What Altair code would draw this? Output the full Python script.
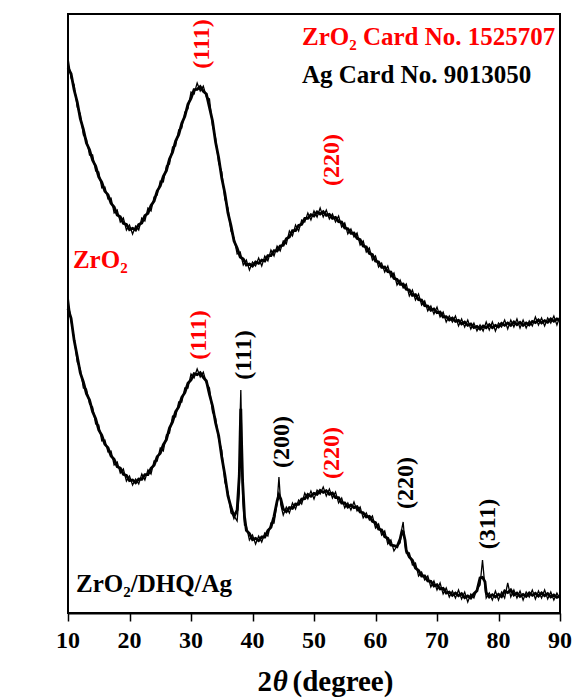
import altair as alt
import pandas as pd

FONT = "Liberation Serif"
RED = "#ff0000"

# ---------------- data (arbitrary intensity units) ----------------
UPPER_2THETA = [10 + 0.5 * i for i in range(161)]  # sampling grid 10..90 deg
UPPER_INTENSITY = [
    555, 535, 528, 506, 499, 478, 474, 458, 458, 442, 441, 425, 426, 414, 415, 400,
    403, 391, 395, 383, 388, 379, 387, 383, 395, 392, 405, 402, 416, 418, 432, 431,
    447, 449, 466, 467, 483, 485, 501, 504, 521, 519, 530, 522, 527, 516, 514, 487,
    475, 450, 441, 414, 405, 382, 375, 359, 361, 348, 353, 343, 351, 347, 355, 347,
    357, 352, 363, 357, 367, 362, 372, 369, 382, 377, 388, 382, 393, 391, 400, 393,
    402, 396, 405, 396, 403, 394, 399, 391, 397, 386, 390, 379, 384, 376, 380, 368,
    372, 361, 365, 353, 357, 346, 350, 341, 347, 336, 340, 328, 333, 325, 329, 317,
    323, 313, 319, 308, 312, 302, 307, 299, 306, 296, 301, 291, 297, 291, 297, 287,
    294, 286, 293, 284, 290, 282, 288, 282, 291, 283, 291, 282, 290, 286, 293, 284,
    293, 286, 294, 285, 293, 285, 292, 287, 296, 288, 295, 287, 295, 290, 297, 288,
    297,
]

LOWER_2THETA = [
    10.0, 10.5, 11.0, 11.5, 12.0, 12.5, 13.0, 13.5, 14.0, 14.5, 15.0, 15.5, 16.0, 16.5,
    17.0, 17.5, 18.0, 18.5, 19.0, 19.5, 20.0, 20.5, 21.0, 21.5, 22.0, 22.5, 23.0, 23.5,
    24.0, 24.5, 25.0, 25.5, 26.0, 26.5, 27.0, 27.5, 28.0, 28.5, 29.0, 29.5, 30.0, 30.5,
    31.0, 31.5, 32.0, 32.5, 33.0, 33.5, 34.0, 34.5, 35.0, 35.5, 36.0, 36.5, 37.0, 37.5,
    37.85, 38.0, 38.1, 38.2, 38.4, 38.7, 39.0, 39.5, 40.0, 40.5, 41.0, 41.5, 42.0, 42.5,
    43.0, 43.5, 44.0, 44.3, 44.6, 45.0, 45.5, 46.0, 46.5, 47.0, 47.5, 48.0, 48.5, 49.0,
    49.5, 50.0, 50.5, 51.0, 51.5, 52.0, 52.5, 53.0, 53.5, 54.0, 54.5, 55.0, 55.5, 56.0,
    56.5, 57.0, 57.5, 58.0, 58.5, 59.0, 59.5, 60.0, 60.5, 61.0, 61.5, 62.0, 62.5, 63.0,
    63.5, 64.0, 64.3, 64.5, 64.8, 65.0, 65.5, 66.0, 66.5, 67.0, 67.5, 68.0, 68.5, 69.0,
    69.5, 70.0, 70.5, 71.0, 71.5, 72.0, 72.5, 73.0, 73.5, 74.0, 74.5, 75.0, 75.5, 76.0,
    76.5, 77.0, 77.4, 77.8, 78.0, 78.5, 79.0, 79.5, 80.0, 80.5, 81.0, 81.5, 82.0, 82.5,
    83.0, 83.5, 84.0, 84.5, 85.0, 85.5, 86.0, 86.5, 87.0, 87.5, 88.0, 88.5, 89.0, 89.5,
    90.0,
]
LOWER_INTENSITY = [
    317, 292, 275, 251, 244, 225, 224, 209, 206, 189, 188, 172, 173, 161,
    162, 148, 151, 140, 144, 132, 137, 128, 134, 129, 139, 133, 143, 139,
    152, 152, 165, 162, 178, 180, 197, 196, 211, 211, 225, 225, 239, 235,
    244, 236, 241, 230, 225, 201, 195, 174, 163, 131, 121, 100, 97, 92,
    120, 200, 223, 190, 115, 88, 87, 73, 78, 69, 77, 71, 80, 77,
    90, 90, 110, 136, 108, 98, 106, 100, 110, 104, 113, 109, 120, 114,
    122, 114, 123, 119, 126, 117, 124, 115, 121, 110, 115, 105, 110, 103,
    111, 102, 106, 95, 100, 93, 97, 85, 89, 78, 82, 69, 73, 62,
    67, 70, 85, 91, 68, 60, 60, 48, 50, 37, 41, 33, 37, 26,
    32, 23, 30, 19, 25, 16, 22, 15, 23, 14, 21, 11, 19, 15,
    24, 28, 53, 26, 15, 20, 13, 22, 13, 21, 15, 30, 16, 23,
    15, 22, 13, 21, 16, 23, 14, 22, 15, 23, 14, 21, 13, 20,
    14,
]

X_TICKS = [10, 20, 30, 40, 50, 60, 70, 80, 90]
X_TICK_LABELS = ["10", "20", "30", "40", "50", "60", "70", "80", "90"]

RED_PEAK_LABELS = ["(111)", "(220)", "(111)", "(220)"]
RED_PEAK_X = [31.8, 52.9, 31.3, 52.9]
RED_PEAK_Y = [569, 453, 278, 160]

BLACK_PEAK_LABELS = ["(111)", "(200)", "(220)", "(311)"]
BLACK_PEAK_X = [38.6, 44.8, 65.0, 78.3]
BLACK_PEAK_Y = [258, 171, 130, 89]

RED_NOTES = ["ZrO\u2082 Card No. 1525707", "ZrO\u2082"]
RED_NOTE_X = [48.05, 10.8]
RED_NOTE_Y = [568, 345]

BLACK_NOTES = ["Ag Card No. 9013050", "ZrO\u2082/DHQ/Ag"]
BLACK_NOTE_X = [48.05, 11.3]
BLACK_NOTE_Y = [530, 21]

# x-axis title pieces: "2", italic theta, "(degree)"
XT_TWO_X = [43.17]
XT_THETA_X = [43.3]
XT_DEG_X = [46.5]

# ---------------- build tables ----------------
line_df = pd.concat([
    pd.DataFrame({"theta": UPPER_2THETA, "intensity": UPPER_INTENSITY, "series": "ZrO2"}),
    pd.DataFrame({"theta": LOWER_2THETA, "intensity": LOWER_INTENSITY, "series": "ZrO2/DHQ/Ag"}),
])
red_peaks = pd.DataFrame({"theta": RED_PEAK_X, "intensity": RED_PEAK_Y, "label": RED_PEAK_LABELS})
black_peaks = pd.DataFrame({"theta": BLACK_PEAK_X, "intensity": BLACK_PEAK_Y, "label": BLACK_PEAK_LABELS})
red_notes = pd.DataFrame({"theta": RED_NOTE_X, "intensity": RED_NOTE_Y, "label": RED_NOTES})
black_notes = pd.DataFrame({"theta": BLACK_NOTE_X, "intensity": BLACK_NOTE_Y, "label": BLACK_NOTES})
tick_df = pd.DataFrame({"theta": X_TICKS, "label": X_TICK_LABELS})

x_enc = alt.X(
    "theta:Q",
    scale=alt.Scale(domain=[10, 90], nice=False, zero=False),
    axis=alt.Axis(
        values=X_TICKS, title=None, grid=False, labels=False,
        tickColor="black", tickSize=8, tickWidth=1.5,
        domainColor="black", domainWidth=2,
    ),
)
y_enc = alt.Y(
    "intensity:Q",
    scale=alt.Scale(domain=[0, 599], nice=False, zero=False),
    axis=alt.Axis(
        title="Intensity (a.u.)", labels=False, ticks=False, grid=False,
        domainColor="black", domainWidth=2,
        titleFont=FONT, titleFontSize=28, titleFontWeight="bold", titleColor="black",
        titleAngle=270, titleX=-41, titleY=276, titleAlign="center", titleBaseline="middle",
    ),
)

# thick core of the noisy trace (local running mean computed by Vega-Lite)
core = alt.Chart(line_df).transform_window(
    smooth="mean(intensity)", frame=[-1, 1], groupby=["series"], sort=[{"field": "theta"}]
).mark_line(color="black", strokeWidth=2.8).encode(
    x=x_enc, y=alt.Y("smooth:Q", scale=alt.Scale(domain=[0, 599], nice=False, zero=False), axis=None),
    detail="series:N",
)
# raw noisy trace
lines = alt.Chart(line_df).mark_line(color="black", strokeWidth=1.3).encode(
    x=x_enc, y=y_enc, detail="series:N"
)

def rotated(df, color):
    return alt.Chart(df).mark_text(
        angle=270, align="center", baseline="middle",
        font=FONT, fontSize=24, fontWeight="bold", color=color,
    ).encode(x=x_enc, y=y_enc, text="label:N")

def notes(df, color):
    return alt.Chart(df).mark_text(
        align="left", baseline="alphabetic",
        font=FONT, fontSize=25, fontWeight="bold", color=color,
    ).encode(x=x_enc, y=y_enc, text="label:N")

tick_labels = alt.Chart(tick_df).mark_text(
    align="center", baseline="alphabetic", font=FONT, fontSize=24, fontWeight="bold", color="black"
).encode(x=x_enc, y=alt.value(634), text="label:N")

two = alt.Chart(pd.DataFrame({"theta": XT_TWO_X, "label": ["2"]})).mark_text(
    align="right", baseline="alphabetic", font=FONT, fontSize=29, fontWeight="bold", color="black"
).encode(x=x_enc, y=alt.value(677), text="label:N")
theta = alt.Chart(pd.DataFrame({"theta": XT_THETA_X, "label": ["\u03b8"]})).mark_text(
    align="left", baseline="alphabetic", font=FONT, fontSize=29, fontWeight="bold",
    fontStyle="italic", color="black"
).encode(x=x_enc, y=alt.value(677), text="label:N")
deg = alt.Chart(pd.DataFrame({"theta": XT_DEG_X, "label": ["(degree)"]})).mark_text(
    align="left", baseline="alphabetic", font=FONT, fontSize=29, fontWeight="bold", color="black"
).encode(x=x_enc, y=alt.value(677), text="label:N")

chart = alt.layer(
    lines,
    core,
    rotated(red_peaks, RED),
    rotated(black_peaks, "black"),
    notes(red_notes, RED),
    notes(black_notes, "black"),
    tick_labels,
    two, theta, deg,
).properties(
    width=492,
    height=599,
    padding={"left": 68, "top": 14, "right": 12, "bottom": 85},
    autosize=alt.AutoSizeParams(type="none"),
    background="white",
).configure_view(
    stroke="black", strokeWidth=2
)

chart.save("out.html", embed_options={"renderer": "svg", "actions": False})
